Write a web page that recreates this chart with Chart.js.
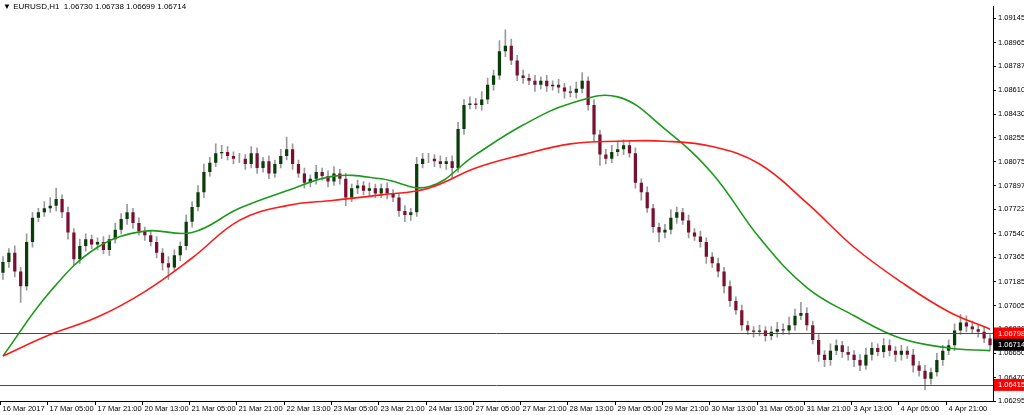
<!DOCTYPE html>
<html>
<head>
<meta charset="utf-8">
<script src="https://cdn.jsdelivr.net/npm/chart.js@4"></script>
<style>
  html, body { margin: 0; padding: 0; background: #fff; }
  #wrap { width: 1024px; height: 415px; }
</style>
</head>
<body>
<div id="wrap"><canvas id="chart"></canvas></div>
<script>
// 2-hour candles, 8 per x-axis label
const timeLabels = ['16 Mar 2017', '17 Mar 05:00', '17 Mar 21:00', '20 Mar 13:00', '21 Mar 05:00', '21 Mar 21:00',
    '22 Mar 13:00', '23 Mar 05:00', '23 Mar 21:00', '24 Mar 13:00', '27 Mar 05:00', '27 Mar 21:00', '28 Mar 13:00',
    '29 Mar 05:00', '29 Mar 21:00', '30 Mar 13:00', '31 Mar 05:00', '31 Mar 21:00', '3 Apr 13:00', '4 Apr 05:00', '4 Apr 21:00'];

const firstOpen = 1.0725;
const closes = [
    1.0733, 1.0740, 1.0726, 1.0715, 1.0748, 1.0766, 1.0770, 1.0773,
    1.0775, 1.0780, 1.0770, 1.0755, 1.0735, 1.0745, 1.0750, 1.0746,
    1.0748, 1.0742, 1.0750, 1.0757, 1.0765, 1.0770, 1.0762, 1.0756,
    1.0753, 1.0748, 1.0740, 1.0732, 1.0729, 1.0738, 1.0745, 1.0763,
    1.0774, 1.0785, 1.0800, 1.0807, 1.0814, 1.0815, 1.0812, 1.0810,
    1.0810, 1.0806, 1.0814, 1.0803, 1.0808, 1.0799, 1.0806, 1.0812,
    1.0817, 1.0806, 1.0799, 1.0792, 1.0795, 1.0800, 1.0797, 1.0793,
    1.0799, 1.0795, 1.0781, 1.0788, 1.0790, 1.0786, 1.0788, 1.0784,
    1.0788, 1.0784, 1.0781, 1.0771, 1.0768, 1.0770, 1.0806, 1.0810,
    1.0810, 1.0808, 1.0806, 1.0808, 1.0803, 1.0832, 1.0850, 1.0851,
    1.0850, 1.0854, 1.0865, 1.0872, 1.0890, 1.0894, 1.0883, 1.0872,
    1.0870, 1.0868, 1.0865, 1.0868, 1.0864, 1.0865, 1.0863, 1.0860,
    1.0859, 1.0862, 1.0868, 1.0850, 1.0828, 1.0813, 1.0810, 1.0815,
    1.0817, 1.0820, 1.0814, 1.0792, 1.0785, 1.0773, 1.0759, 1.0755,
    1.0757, 1.0766, 1.0770, 1.0764, 1.0755, 1.0752, 1.0748, 1.0737,
    1.0732, 1.0726, 1.0715, 1.0704, 1.0697, 1.0686, 1.0682, 1.0681,
    1.0682, 1.0678, 1.0681, 1.0683, 1.0682, 1.0686, 1.0693, 1.0695,
    1.0686, 1.0675, 1.0664, 1.0660, 1.0667, 1.0671, 1.0666, 1.0664,
    1.0660, 1.0656, 1.0664, 1.0669, 1.0666, 1.0671, 1.0667, 1.0664,
    1.0667, 1.0664, 1.0656, 1.0652, 1.0646, 1.0651, 1.0660, 1.0667,
    1.0671, 1.0682, 1.0688, 1.0685, 1.0683, 1.0681, 1.0676, 1.0671
];
// wick lengths in pips above max(open,close) and below min(open,close)
const upperWick = [
    4, 3, 5, 3, 6, 4, 3, 5,   6, 8, 3, 4, 3, 5, 4, 3,   3, 4, 3, 5, 4, 6, 3, 4,
    3, 3, 4, 3, 5, 4, 3, 5,   4, 5, 6, 4, 7, 5, 4, 3,   4, 3, 5, 4, 3, 4, 3, 5,
    9, 4, 3, 4, 3, 5, 3, 4,   5, 3, 4, 3, 4, 3, 4, 3,   3, 4, 3, 3, 4, 3, 5, 4,
    4, 3, 4, 3, 4, 5, 4, 5,   4, 6, 5, 4, 8, 12, 5, 4,  4, 3, 4, 3, 4, 3, 4, 3,
    4, 5, 6, 3, 4, 3, 4, 5,   6, 4, 3, 4, 3, 4, 3, 3,   4, 6, 4, 3, 4, 3, 4, 3,
    3, 4, 3, 4, 3, 4, 3, 3,   4, 3, 4, 5, 4, 6, 5, 8,   4, 3, 4, 3, 5, 4, 3, 4,
    3, 4, 5, 4, 3, 5, 4, 3,   4, 3, 4, 3, 4, 3, 5, 4,   4, 5, 6, 5, 4, 3, 4, 3
];
const lowerWick = [
    5, 4, 4, 12, 3, 4, 3, 3,  3, 4, 4, 5, 4, 3, 4, 3,   4, 3, 4, 3, 3, 4, 4, 3,
    4, 3, 4, 5, 9, 3, 4, 3,   4, 3, 4, 3, 3, 4, 3, 4,   3, 4, 3, 4, 3, 4, 3, 3,
    3, 4, 3, 4, 3, 4, 3, 4,   3, 4, 6, 3, 4, 3, 4, 3,   3, 4, 3, 4, 5, 4, 3, 3,
    3, 4, 3, 4, 8, 3, 4, 3,   3, 4, 3, 4, 3, 4, 3, 4,   4, 3, 5, 3, 4, 3, 4, 5,
    3, 4, 3, 4, 5, 8, 4, 3,   3, 4, 3, 4, 6, 3, 4, 7,   4, 3, 4, 3, 4, 3, 4, 5,
    3, 4, 5, 4, 3, 4, 3, 4,   3, 4, 3, 4, 3, 3, 4, 3,   4, 3, 5, 5, 4, 3, 4, 4,
    5, 4, 3, 4, 3, 4, 4, 5,   4, 3, 5, 4, 8, 4, 3, 4,   3, 4, 3, 4, 3, 4, 3, 4
];
// moving averages, read every 8 candles
const maFastPts = [1.0663, 1.0711, 1.0744, 1.0756, 1.0755, 1.0773, 1.0786, 1.0797, 1.0795, 1.0789, 1.0813,
    1.0835, 1.0851, 1.0856, 1.0832, 1.0799, 1.0751, 1.0714, 1.0693, 1.0676, 1.0669, 1.0667];
const maSlowPts = [1.0663, 1.0679, 1.0692, 1.0711, 1.0736, 1.0764, 1.0775, 1.0779, 1.0783, 1.0788, 1.0803,
    1.0813, 1.0821, 1.0823, 1.0823, 1.0819, 1.0806, 1.0777, 1.0744, 1.0718, 1.0696, 1.0683];
const yTicks = [1.09145, 1.08965, 1.08787, 1.08610, 1.08430, 1.08255, 1.08075, 1.07897, 1.07722, 1.07540,
    1.07365, 1.07185, 1.07005, 1.06830, 1.06650, 1.06470, 1.06295];
const levels = [1.06798, 1.06415];
const lastPrice = 1.06714;
const header = 'EURUSD,H1  1.06730 1.06738 1.06699 1.06714';

const pip = 0.0001;
const n = closes.length;
const idx = closes.map((_, i) => i);
const opens = closes.map((c, i) => i === 0 ? firstOpen : closes[i - 1]);
const bodies = closes.map((c, i) => [opens[i], c]);
const wicks = closes.map((c, i) => [Math.min(opens[i], c) - lowerWick[i] * pip, Math.max(opens[i], c) + upperWick[i] * pip]);
const bodyColors = closes.map((c, i) => c >= opens[i] ? '#0b3d0b' : '#7a1030');
const spread = pts => idx.map(i => i % 8 === 0 ? pts[i / 8] : (i === n - 1 ? pts[pts.length - 1] : null));
const font = '7.5px "Liberation Sans", Arial, sans-serif';

const overlay = {
    id: 'overlay',
    afterDraw(chart) {
        const { ctx, chartArea: a, scales: { x, y } } = chart;
        ctx.save();
        ctx.font = '8px "Liberation Sans", Arial, sans-serif';
        ctx.fillStyle = '#000';
        ctx.textBaseline = 'middle';
        ctx.fillText('\u25BC ' + header, 3, 7);
        ctx.font = font;
        // x labels
        ctx.strokeStyle = '#000';
        ctx.lineWidth = 1;
        ctx.beginPath();
        ctx.moveTo(a.left, a.bottom + 0.5); ctx.lineTo(a.right, a.bottom + 0.5);
        ctx.stroke();
        timeLabels.forEach((t, k) => {
            const px = Math.round(x.getPixelForValue(k * 8) - 3) + 0.5;
            ctx.beginPath(); ctx.moveTo(px, a.bottom); ctx.lineTo(px, a.bottom + 4); ctx.stroke();
            ctx.fillText(t, px + 2, a.bottom + 8);
        });
        // horizontal levels
        ctx.strokeStyle = '#ff0000';
        levels.forEach(l => {
            const py = Math.round(y.getPixelForValue(l)) + 0.5;
            ctx.beginPath(); ctx.moveTo(a.left, py); ctx.lineTo(a.right, py); ctx.stroke();
        });
        const tag = (v, bg) => {
            const py = y.getPixelForValue(v);
            ctx.fillStyle = bg;
            ctx.fillRect(a.right + 1, py - 6, 30, 12);
            ctx.fillStyle = '#fff';
            ctx.fillText(v.toFixed(5), a.right + 5, py);
        };
        levels.forEach(l => tag(l, '#ff0000'));
        tag(lastPrice, '#000');
        ctx.restore();
    }
};

new Chart(document.getElementById('chart'), {
    data: {
        labels: idx,
        datasets: [
            { type: 'line', data: spread(maSlowPts), borderColor: '#ff1a1a', borderWidth: 1.6, pointRadius: 0, spanGaps: true, tension: 0.4, order: 0 },
            { type: 'line', data: spread(maFastPts), borderColor: '#1c9a1c', borderWidth: 1.6, pointRadius: 0, spanGaps: true, tension: 0.4, order: 0 },
            { type: 'bar', data: bodies, backgroundColor: bodyColors, borderSkipped: false, barPercentage: 0.55, categoryPercentage: 1, grouped: false, order: 1 },
            { type: 'bar', data: wicks, backgroundColor: '#9a9a9a', barThickness: 1, grouped: false, order: 2 }
        ]
    },
    options: {
        responsive: true,
        maintainAspectRatio: false,
        animation: false,
        layout: { padding: { top: 0, bottom: 14, left: 0, right: 0 } },
        plugins: { legend: { display: false }, tooltip: { enabled: false } },
        scales: {
            x: { type: 'category', display: false, offset: true },
            y: {
                position: 'right',
                min: 1.06295, max: 1.09233,
                afterBuildTicks: s => { s.ticks = yTicks.map(v => ({ value: v })); },
                afterFit: s => { s.width = 31; },
                grid: { drawOnChartArea: false, tickLength: 3, color: '#000' },
                border: { color: '#000' },
                ticks: { color: '#000', font: { size: 7.5, family: 'Liberation Sans' }, padding: 2, callback: v => v.toFixed(5) }
            }
        }
    },
    plugins: [overlay]
});
</script>
</body>
</html>
